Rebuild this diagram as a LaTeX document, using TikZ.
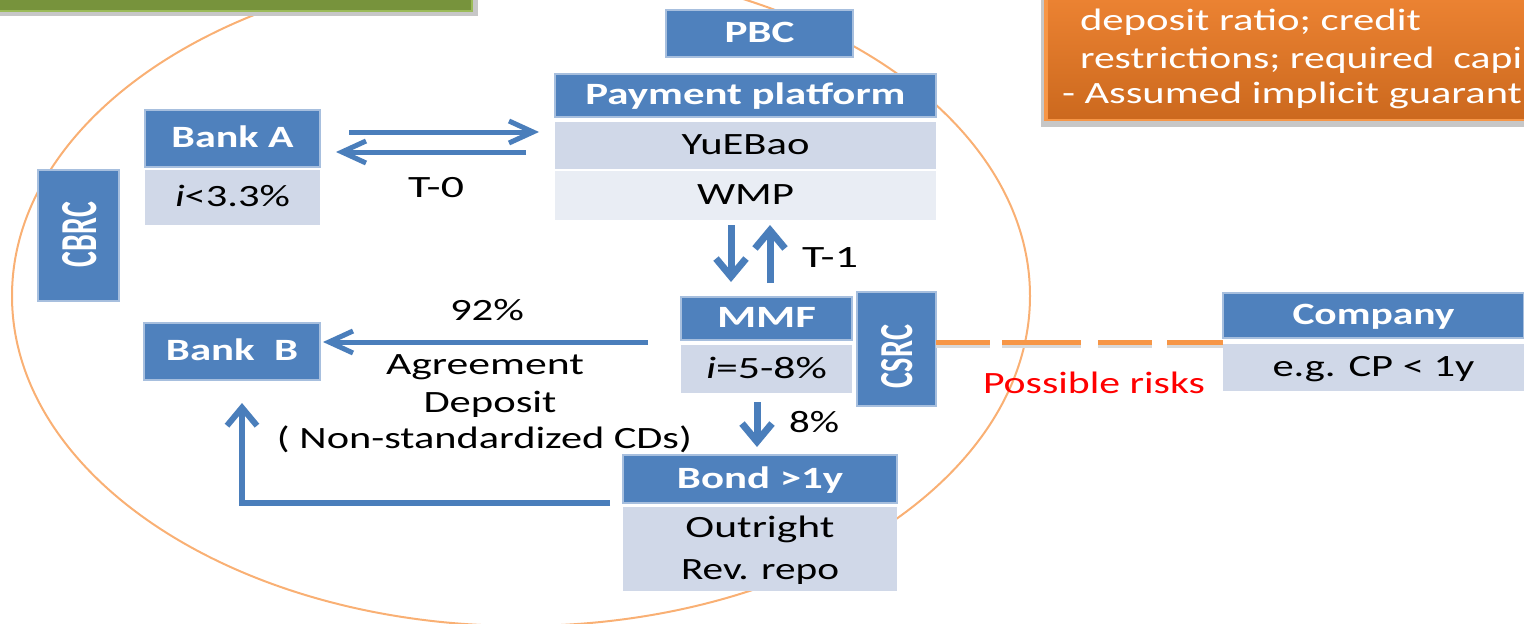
\documentclass[tikz,border=0pt]{standalone}
\usepackage{fontspec}
\setmainfont{Carlito}
\usetikzlibrary{arrows.meta}
\definecolor{hdrblue}{HTML}{4F81BD}
\definecolor{hdredge}{HTML}{A7BFDE}
\definecolor{rowA}{HTML}{D0D8E8}
\definecolor{rowB}{HTML}{E9EDF4}
\definecolor{arrblue}{HTML}{4A7EBB}
\definecolor{orln}{HTML}{F79646}
\definecolor{grn}{HTML}{77933C}
\definecolor{grnedge}{HTML}{9BBB59}
\definecolor{ortop}{HTML}{EB8232}
\definecolor{orbot}{HTML}{CC691E}
\definecolor{riskred}{HTML}{FF0000}
\newcommand\tx[2]{\resizebox{#1pt}{\height}{#2}}
\newcommand\txr[3]{\resizebox{#1pt}{#2pt}{#3}}
\begin{document}
\begin{tikzpicture}[x=1pt,y=-1pt,
  base/.style={font=\fontsize{31pt}{37pt}\selectfont, inner sep=0pt, outer sep=0pt},
  cell/.style={base, text height=18pt, text depth=0pt},
  hdr/.style={cell, fill=hdrblue, draw=hdredge, line width=2.5pt, text=white, font=\fontsize{31pt}{37pt}\selectfont\bfseries},
  rowa/.style={cell, fill=rowA, text=black},
  rowb/.style={cell, fill=rowB, text=black},
  lbl/.style={base, anchor=base, text=black},
  rot/.style={base, rotate=90, text=white, font=\fontsize{31pt}{37pt}\selectfont\bfseries},
  otxt/.style={base, anchor=base west, text=white},
  harr/.style={draw=arrblue, line width=5pt, -{Straight Barb[length=24pt,width=22pt]}},
  varr/.style={draw=arrblue, line width=7pt, -{Straight Barb[length=18pt,width=30pt]}},
  larr/.style={draw=arrblue, line width=6pt, -{Straight Barb[length=18pt,width=30pt]}},
  ell/.style={draw=orln!75, line width=2pt},
  riskline/.style={draw=orln, line width=5pt, dash pattern=on 54pt off 12pt on 79pt off 17pt on 54pt off 15pt on 60pt off 1pt},
  riskshadow/.style={draw=black!15, line width=4pt, dash pattern=on 54pt off 12pt on 79pt off 17pt on 54pt off 15pt on 60pt off 1pt}
]
\useasboundingbox (0,0) rectangle (1524,624);

% surrounding ellipse
\draw[ell] (521,296) ellipse [x radius=509pt, y radius=330pt];

% green box (top left)
\fill[black!22] (0,0) rectangle (478,16);
\fill[grnedge] (0,0) rectangle (473,12);
\fill[grn] (0,0) rectangle (471,10);

% orange box (top right)
\fill[black!22] (1041,0) rectangle (1524,127);
\fill[orln] (1044,0) rectangle (1524,121);
\shade[top color=ortop, bottom color=orbot] (1048,0) rectangle (1524,118);
\node[otxt] (o1) at (1080,30) {\tx{341}{deposit ratio; credit}};
\node[otxt] (o2) at (1080,68) {\tx{442}{restrictions; required\ \ capi}};
\node[otxt] (o3) at (1062,103) {\tx{460}{- Assumed implicit guarant}};

% PBC and payment platform
\node[hdr, minimum width=187pt, minimum height=47pt] (pbc) at (759.5,33.5) {\tx{70}{PBC}};
\node[hdr, minimum width=381pt, minimum height=43pt] (pay) at (745.5,95.5) {\tx{320}{Payment platform}};
\node[rowa, minimum width=381pt, minimum height=47pt] (yeb) at (745.5,145.5) {\tx{128}{YuEBao}};
\node[rowb, minimum width=381pt, minimum height=49pt] (wmp) at (745.5,195.5) {\tx{97}{WMP}};

% Bank A
\node[hdr, minimum width=175pt, minimum height=57pt] (bankA) at (232.5,138.5) {\tx{122}{Bank A}};
\node[rowa, minimum width=175pt, minimum height=55pt] (bankAr) at (232.5,197.5) {\tx{115}{\textit{i}<3.3\%}};

% CBRC
\node[hdr, minimum width=81pt, minimum height=131pt] (cbrc) at (78.5,235.5) {};
\node[rot] (cbrct) at (80,234.5) {\txr{65}{34}{CBRC}};

% Bank B
\node[hdr, minimum width=176pt, minimum height=57pt] (bankB) at (232,351.5) {\tx{132}{Bank\ \ B}};

% MMF
\node[hdr, minimum width=171pt, minimum height=43pt] (mmf) at (766.5,318.5) {\tx{99}{MMF}};
\node[rowa, minimum width=171pt, minimum height=48pt] (mmfr) at (766.5,369) {\tx{121}{\textit{i}=5-8\%}};

% CSRC
\node[hdr, minimum width=79pt, minimum height=114pt] (csrc) at (896.5,349) {};
\node[rot] (csrct) at (897.5,356.5) {\txr{63}{31}{CSRC}};

% Bond
\node[hdr, minimum width=274pt, minimum height=48pt] (bond) at (760,479) {\tx{166}{Bond >1y}};
\node[rowa, minimum width=274pt, minimum height=42pt] (bondr1) at (760,528) {\tx{149}{Outright}};
\node[rowa, minimum width=274pt, minimum height=42pt] (bondr2) at (760,570) {\tx{158}{Rev. repo}};

% Company
\node[hdr, minimum width=301pt, minimum height=45pt] (comp) at (1373.5,315.5) {\tx{162}{Company}};
\node[rowa, minimum width=301pt, minimum height=47pt] (compr) at (1373.5,367.5) {\tx{202}{e.g. CP < 1y}};

% labels
\node[lbl] (t0) at (436,197) {\tx{56}{T-0}};
\node[lbl] (t1) at (830,267) {\tx{56}{T-1}};
\node[lbl] (p92) at (487,320) {\tx{74}{92\%}};
\node[lbl] (p8) at (814,432) {\tx{50}{8\%}};
\node[lbl] (agr) at (485,374) {\tx{198}{Agreement}};
\node[lbl] (dep) at (490,412) {\tx{133}{Deposit}};
\node[lbl] (ncd) at (484.5,448) {\tx{415}{( Non-standardized CDs)}};
\node[lbl, text=riskred] (risk) at (1094,393) {\tx{222}{Possible risks}};

% arrows
\draw[harr, shorten <=29pt, shorten >=16pt] ([yshift=6.5pt]bankA.east) -- ([yshift=6.5pt]bankA.east -| yeb.west);
\draw[harr, shorten <=29pt, shorten >=16pt] ([yshift=-13.5pt]bankA.east -| yeb.west) -- ([yshift=-13.5pt]bankA.east);
\draw[varr, shorten <=5pt, shorten >=15pt] ([xshift=-14.5pt]wmp.south) -- ([xshift=-14.5pt]wmp.south |- mmf.north);
\draw[varr, shorten <=14pt, shorten >=5pt] ([xshift=24.5pt]wmp.south |- mmf.north) -- ([xshift=24.5pt]wmp.south);
\draw[harr, shorten <=33pt, shorten >=3pt] ([yshift=-2pt]mmf.south west) -- ([yshift=-2pt]mmf.south west -| bankB.east);
\draw[varr, shorten <=9pt, shorten >=8pt] ([xshift=-9.5pt]mmfr.south) -- ([xshift=-9.5pt]mmfr.south |- bond.north);
\draw[larr, shorten <=13pt, shorten >=23pt] (bond.south west) -| ([xshift=10pt]bankB.south);

% risk line
\draw[riskshadow] ([yshift=-8pt]comp.south west -| csrc.east) -- ([yshift=-8pt]comp.south west);
\draw[riskline] ([yshift=-4pt]comp.south west -| csrc.east) -- ([yshift=-4pt]comp.south west);
\end{tikzpicture}
\end{document}
